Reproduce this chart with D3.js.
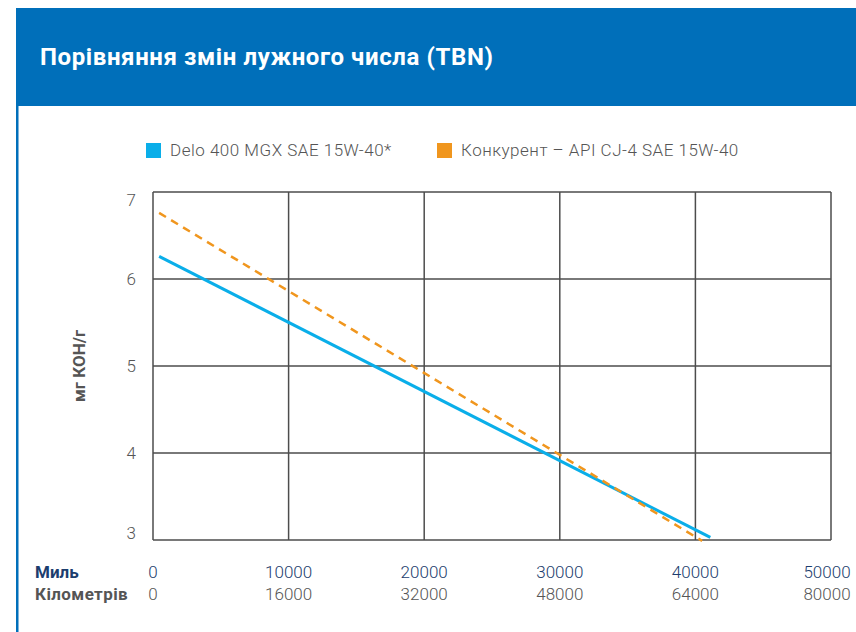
<!DOCTYPE html>
<html>
<head>
<meta charset="utf-8">
<script src="https://cdnjs.cloudflare.com/ajax/libs/d3/7.8.5/d3.min.js"></script>
<style>
  body { margin: 0; background: #fff; }
  #chart { width: 856px; height: 632px; }
</style>
</head>
<body>
<div id="chart"></div>
<script>
  var milesTicks = [0, 10000, 20000, 30000, 40000, 50000];
  var kmTicks = [0, 16000, 32000, 48000, 64000, 80000];
  var tbnTicks = [3, 4, 5, 6, 7];

  var seriesNames = ["Delo 400 MGX SAE 15W-40*", "Конкурент – API CJ-4 SAE 15W-40"];
  // miles / TBN
  var deloMiles = [450, 41100];
  var deloTbn = [6.26, 3.03];
  var rivalMiles = [450, 40500];
  var rivalTbn = [6.76, 2.99];

  var width = 856, height = 632;
  var font = "Roboto, 'Liberation Sans', sans-serif";
  var gray = "#555555";

  var svg = d3.select("#chart")
    .append("svg")
    .attr("width", width)
    .attr("height", height)
    .style("font-family", font);

  // header band + left rule
  svg.append("rect")
    .attr("x", 16).attr("y", 8)
    .attr("width", width - 16).attr("height", 98)
    .attr("fill", "#006fba");
  svg.append("rect")
    .attr("x", 16).attr("y", 106)
    .attr("width", 2.5).attr("height", height - 106)
    .attr("fill", "#006fba");

  svg.append("text")
    .attr("x", 40).attr("y", 65)
    .attr("fill", "#fff")
    .attr("font-size", 24)
    .attr("font-weight", "bold")
    .attr("letter-spacing", 0.6)
    .text("Порівняння змін лужного числа (TBN)");

  var x = d3.scaleLinear().domain([0, 50000]).range([153, 831]);
  var y = d3.scaleLinear().domain([3, 7]).range([540, 192]);

  var grid = svg.append("g");
  grid.selectAll(".vg")
    .data(milesTicks)
    .enter().append("line")
    .attr("x1", function(d) { return x(d); })
    .attr("x2", function(d) { return x(d); })
    .attr("y1", y(7)).attr("y2", y(3))
    .attr("stroke", "#4d4d4d").attr("stroke-width", 1.5);
  grid.selectAll(".hg")
    .data(tbnTicks)
    .enter().append("line")
    .attr("y1", function(d) { return y(d); })
    .attr("y2", function(d) { return y(d); })
    .attr("x1", x(0)).attr("x2", x(50000))
    .attr("stroke", "#4d4d4d").attr("stroke-width", 1.5);

  // y tick labels, end ones pulled inside
  svg.selectAll(".ylab")
    .data(tbnTicks)
    .enter().append("text")
    .attr("x", 136)
    .attr("y", function(d) {
      var off = d === 7 ? 8 : d === 3 ? -7 : 0;
      return y(d) + off;
    })
    .attr("dy", "0.35em")
    .attr("text-anchor", "end")
    .attr("font-size", 17)
    .attr("font-weight", 300)
    .attr("fill", gray)
    .text(function(d) { return d; });

  svg.append("text")
    .attr("transform", "translate(85," + y(5) + ") rotate(-90)")
    .attr("text-anchor", "middle")
    .attr("font-size", 17)
    .attr("font-weight", "bold")
    .attr("fill", gray)
    .text("мг КОН/г");

  // x labels: miles + km
  svg.append("text")
    .attr("x", 35).attr("y", 578)
    .attr("font-size", 17).attr("font-weight", "bold")
    .attr("fill", "#1c3d6e")
    .text("Миль");
  svg.append("text")
    .attr("x", 35).attr("y", 600)
    .attr("font-size", 17).attr("font-weight", "bold")
    .attr("letter-spacing", 0.4)
    .attr("fill", gray)
    .text("Кілометрів");

  svg.selectAll(".mlab")
    .data(milesTicks)
    .enter().append("text")
    .attr("x", function(d, i) { return x(d) - (i === 5 ? 4 : 0); })
    .attr("y", 578)
    .attr("text-anchor", "middle")
    .attr("font-size", 17)
    .attr("font-weight", 300)
    .attr("fill", "#1c3d6e")
    .text(function(d) { return d; });
  svg.selectAll(".klab")
    .data(kmTicks)
    .enter().append("text")
    .attr("x", function(d, i) { return x(milesTicks[i]) - (i === 5 ? 4 : 0); })
    .attr("y", 600)
    .attr("text-anchor", "middle")
    .attr("font-size", 17)
    .attr("font-weight", 300)
    .attr("fill", gray)
    .text(function(d) { return d; });

  // series
  var line = d3.line()
    .x(function(d) { return x(d[0]); })
    .y(function(d) { return y(d[1]); });

  svg.append("path")
    .datum(d3.zip(deloMiles, deloTbn))
    .attr("d", line)
    .attr("fill", "none")
    .attr("stroke", "#0aaee9")
    .attr("stroke-width", 3);

  svg.append("path")
    .datum(d3.zip(rivalMiles, rivalTbn))
    .attr("d", line)
    .attr("fill", "none")
    .attr("stroke", "#f0961e")
    .attr("stroke-width", 2.5)
    .attr("stroke-dasharray", "8,6");

  // legend
  var legendX = [146, 437];
  var legendColors = ["#0aaee9", "#f0961e"];
  var lg = svg.selectAll(".leg")
    .data(seriesNames)
    .enter().append("g")
    .attr("transform", function(d, i) { return "translate(" + legendX[i] + ",143)"; });
  lg.append("rect")
    .attr("width", 15).attr("height", 15)
    .attr("fill", function(d, i) { return legendColors[i]; });
  lg.append("text")
    .attr("x", 24).attr("y", 13)
    .attr("font-size", 17)
    .attr("font-weight", 300)
    .attr("letter-spacing", 0.5)
    .attr("fill", gray)
    .text(function(d) { return d; });
</script>
</body>
</html>
